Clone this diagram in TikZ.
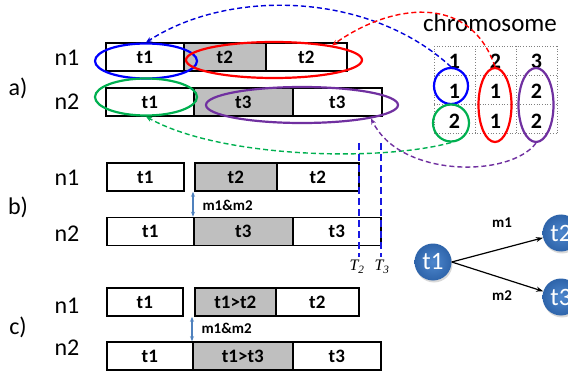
\documentclass[tikz,border=0pt]{standalone}
\usepackage{fontspec}
\setmainfont{Carlito}
\newfontfamily\tnr{Liberation Serif}
\usetikzlibrary{shapes.geometric,arrows.meta,shadows}

\definecolor{slotgray}{RGB}{191,191,191}
\definecolor{selblue}{RGB}{0,0,255}
\definecolor{selred}{RGB}{255,0,0}
\definecolor{selgreen}{RGB}{0,176,80}
\definecolor{selpurple}{RGB}{112,48,160}
\definecolor{msgblue}{RGB}{79,129,189}
\definecolor{ballin}{RGB}{78,135,205}
\definecolor{ballout}{RGB}{46,100,170}
\definecolor{cutblue}{RGB}{25,25,225}

\newcommand{\fsz}[1]{\fontsize{#1}{#1}\selectfont}

\begin{document}
\begin{tikzpicture}[x={(1pt,0)}, y={(0,-1pt)},
  lbl/.style={font=\fsz{24}},
  slot/.style={draw, line width=1.6pt, minimum height=28pt, inner sep=0pt, anchor=west, font=\fsz{19}\bfseries},
  busy/.style={slot, fill=slotgray},
  sel/.style={ellipse, draw, line width=2.2pt, inner sep=0pt},
  link/.style={dash pattern=on 5pt off 3pt, line width=1.4pt, -{Stealth[length=6pt,width=5pt]}},
  msg/.style={msgblue, line width=1.4pt, {Stealth[length=5pt,width=4pt]}-{Stealth[length=5pt,width=4pt]}},
  mlbl/.style={font=\fsz{15}\bfseries},
  gene/.style={font=\fsz{22}\bfseries},
  ball/.style={circle, minimum size=37pt, inner sep=0pt, inner color=ballin, outer color=ballout, text=white, font=\fsz{25},
    drop shadow={opacity=0.3, shadow xshift=1pt, shadow yshift=-2pt}},
  cut/.style={cutblue, line width=1.4pt, dash pattern=on 7pt off 4pt}]
\useasboundingbox (0,0) rectangle (568,377);

% a) schedule encoded by the chromosome
\node[lbl] (la) at (18,88) {a)};
\node[lbl] (la1) at (67,58) {n1};
\node[lbl] (la2) at (67,102) {n2};

\node[slot, minimum width=78pt] (a1t1) at (105,57) {t1};
\node[busy, minimum width=82pt] (a1t2) at (183,57) {t2};
\node[slot, minimum width=81pt] (a1t2b) at (265,57) {t2};

\node[slot, minimum width=88pt] (a2t1) at (105,102) {t1};
\node[busy, minimum width=99pt] (a2t3) at (193,102) {t3};
\node[slot, minimum width=89pt] (a2t3b) at (292,102) {t3};

\node[sel, selblue, minimum width=102pt, minimum height=35pt] (eb) at (146,61) {};
\node[sel, selred, minimum width=176pt, minimum height=36pt] (er) at (274,60) {};
\node[sel, selgreen, minimum width=102pt, minimum height=37pt] (eg) at (146,97) {};
\node[sel, selpurple, minimum width=192pt, minimum height=36pt] (ep) at (302,105) {};

% chromosome table
\node[font=\fsz{25}] (chrom) at (490,23) {chromosome};
\foreach \gx in {434,475,516,557}
  \draw[gray, dotted, line width=0.7pt] (\gx,46) -- (\gx,133);
\foreach \gy in {46,75,104,133}
  \draw[gray, dotted, line width=0.7pt] (434,\gy) -- (557,\gy);

\node[gene] (h1) at (454.5,61) {1};
\node[gene] (h2) at (495.5,61) {2};
\node[gene] (h3) at (536.5,61) {3};
\node[gene] (g11) at (454.5,91) {1};
\node[gene] (g12) at (495.5,91) {1};
\node[gene] (g13) at (536.5,91) {2};
\node[gene] (g21) at (454.5,121) {2};
\node[gene] (g22) at (495.5,121) {1};
\node[gene] (g23) at (536.5,121) {2};

\node[sel, selblue, minimum width=34pt, minimum height=36pt] (cb) at (451,86) {};
\node[sel, selgreen, minimum width=36pt, minimum height=37pt] (cg) at (451,123) {};
\node[sel, selred, minimum width=33pt, minimum height=74pt] (cr) at (495,105) {};
\node[sel, selpurple, minimum width=35pt, minimum height=74pt] (cp) at (536,105) {};

\draw[link, selblue!85!black] (cb.north) .. controls (370,-8) and (230,-12) .. (eb.north);
\draw[link, selred] (cr.north) .. controls (470,-8) and (390,4) .. (er.14);
\draw[link, selgreen] (cg.south) .. controls (380,162) and (220,158) .. (eg.south);
\draw[link, selpurple] (cp.south) .. controls (510,178) and (400,178) .. (ep.-11);

% b) without messages
\node[lbl] (lb) at (18,207) {b)};
\node[lbl] (lb1) at (67,178) {n1};
\node[lbl] (lb2) at (67,234) {n2};

\node[slot, minimum width=77pt] (b1t1) at (106,177) {t1};
\node[busy, minimum width=82pt] (b1t2) at (194,177) {t2};
\node[slot, minimum width=82pt] (b1t2b) at (276,177) {t2};

\node[slot, minimum width=87pt] (b2t1) at (106,231.5) {t1};
\node[busy, minimum width=99pt] (b2t3) at (193,231.5) {t3};
\node[slot, minimum width=88pt] (b2t3b) at (292,231.5) {t3};

\draw[msg] (b2t3.north west) -- (b2t3.north west |- b1t2.south);
\node[mlbl, anchor=west] (mb) at (199,205) {m1\&m2};

\node[font=\fsz{16}\tnr\itshape] (tt2) at (357,267) {T\textsubscript{2}};
\node[font=\fsz{16}\tnr\itshape] (tt3) at (382,267) {T\textsubscript{3}};
\coordinate (tt2top) at (359,143);
\coordinate (tt3top) at (381,143);
\draw[cut] (tt2top) -- (tt2.north -| tt2top);
\draw[cut] (tt3top) -- (tt3.north -| tt3top);

% c) with messages
\node[lbl] (lc) at (18,327) {c)};
\node[lbl] (lc1) at (67,306) {n1};
\node[lbl] (lc2) at (67,348) {n2};

\node[slot, minimum width=76pt] (c1t1) at (106,302) {t1};
\node[busy, minimum width=81pt] (c1t2) at (194,302) {t1>t2};
\node[slot, minimum width=83pt] (c1t2b) at (275,302) {t2};

\node[slot, minimum width=86pt] (c2t1) at (106,356) {t1};
\node[busy, minimum width=100pt] (c2t3) at (192,356) {t1>t3};
\node[slot, minimum width=88pt] (c2t3b) at (292,356) {t3};

\draw[msg] (c2t3.north west) -- (c2t3.north west |- c1t2.south);
\node[mlbl, anchor=west] (mc) at (198,328) {m1\&m2};

% task graph
\node[ball] (n1) at (433,262) {t1};
\node[ball] (n2) at (561,233) {t2};
\node[ball] (n3) at (561,297) {t3};
\draw[line width=1.2pt, -{Stealth[length=7pt,width=5pt]}] (n1.east) -- (n2);
\draw[line width=1.2pt, -{Stealth[length=7pt,width=5pt]}] (n1.east) -- (n3);
\node[mlbl] (m1) at (502,223) {m1};
\node[mlbl] (m2) at (502,296) {m2};
\end{tikzpicture}
\end{document}
